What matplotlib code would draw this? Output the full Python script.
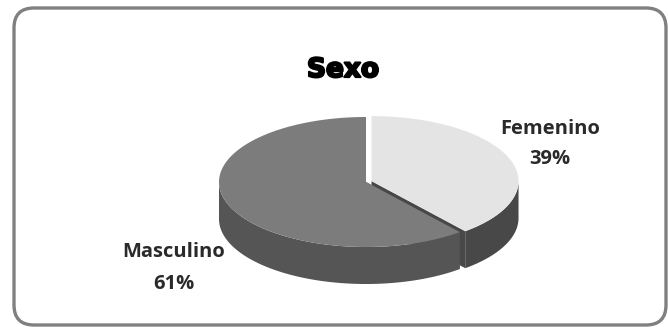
import matplotlib.pyplot as plt
import numpy as np
from matplotlib.patches import FancyBboxPatch, Polygon
import matplotlib.patheffects as pe

# Datos
etiquetas = ["Femenino", "Masculino"]
porcentajes = [39, 61]
color_tapa = ["#e4e4e4", "#7c7c7c"]
color_lado = ["#484848", "#555555"]
separacion = [0.04, 0.0]

fig = plt.figure(figsize=(6.68, 3.28), dpi=100)
ax = fig.add_axes([0, 0, 1, 1])
ax.set_xlim(0, 668)
ax.set_ylim(328, 0)
ax.axis("off")

# Marco redondeado
marco = FancyBboxPatch((14, 8), 652, 317, boxstyle="round,pad=0,rounding_size=20",
                       fc="white", ec="#808080", lw=2.4)
ax.add_patch(marco)

# Geometría del pastel 3D (en píxeles)
cx, cy = 366, 182
rx, ry = 147, 65
prof = 37

def punto(ang, r=1.0, dx=0.0, dy=0.0):
    a = np.radians(ang)
    return cx + dx + r * rx * np.cos(a), cy + dy - r * ry * np.sin(a)

angulos = []
ini = 90.0
for p in porcentajes:
    fin = ini - p / 100 * 360
    angulos.append((ini, fin))
    ini = fin

tapas, lados, radiales = [], [], []
for i, (a0, a1) in enumerate(angulos):
    medio = np.radians((a0 + a1) / 2)
    dx = separacion[i] * rx * np.cos(medio)
    dy = -separacion[i] * ry * np.sin(medio)
    t = np.linspace(a0, a1, 200)
    xs, ys = punto(t, dx=dx, dy=dy)
    tapa = np.vstack([[cx + dx, cy + dy], np.column_stack([xs, ys])])
    tapas.append(Polygon(tapa, closed=True, fc=color_tapa[i], ec="none", zorder=5))
    # caras radiales
    for a in (a0, a1):
        px, py = punto(a, dx=dx, dy=dy)
        cara = [(cx + dx, cy + dy), (px, py), (px, py + prof), (cx + dx, cy + dy + prof)]
        radiales.append(Polygon(cara, closed=True, fc=color_lado[i], ec="none", zorder=2))
    # pared exterior visible (mitad delantera)
    lo, hi = max(min(a0, a1), -180), min(max(a0, a1), 0)
    if lo < hi:
        t = np.linspace(lo, hi, 200)
        xs, ys = punto(t, dx=dx, dy=dy)
        pared = np.vstack([np.column_stack([xs, ys]),
                           np.column_stack([xs[::-1], ys[::-1] + prof])])
        lados.append(Polygon(pared, closed=True, fc=color_lado[i], ec="none", zorder=3))

for p in radiales + lados + tapas:
    ax.add_patch(p)

# Título
ax.text(343, 70, "Sexo", ha="center", va="center", fontsize=19,
        fontweight="bold", family="DejaVu Sans", color="black",
        path_effects=[pe.withStroke(linewidth=1.6, foreground="black")])

# Etiquetas de datos
estilo = dict(ha="center", va="center", fontsize=14.5, fontweight="bold",
              family="Open Sans", color="#2a2a2a")
ax.text(550, 129, etiquetas[0], **estilo)
ax.text(550, 159, f"{porcentajes[0]}%", **estilo)
ax.text(174, 252, etiquetas[1], **estilo)
ax.text(174, 284, f"{porcentajes[1]}%", **estilo)

fig.savefig("out.png", dpi=100)
